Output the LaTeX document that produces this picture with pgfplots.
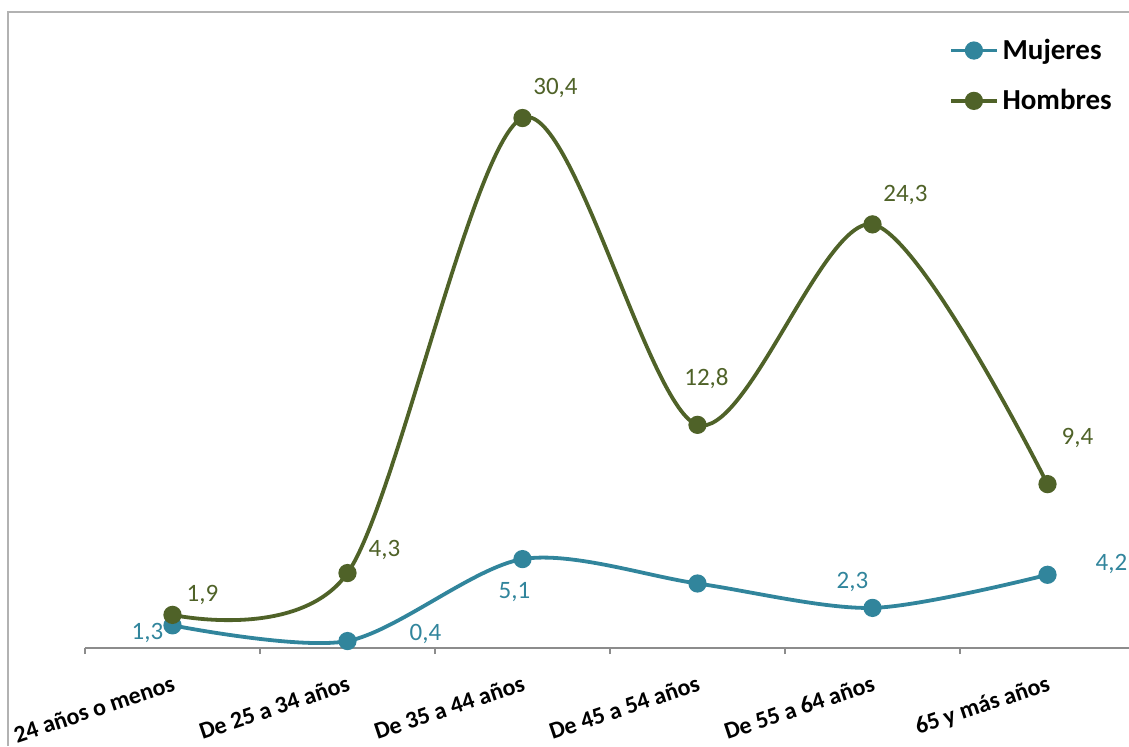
\documentclass[border=0pt]{standalone}
\usepackage{pgfplots}
\pgfplotsset{compat=1.18}
\usepackage{pgfplotstable}
\usepackage{fontspec}
\setmainfont{Carlito}
\definecolor{muj}{HTML}{31859C}
\definecolor{hom}{HTML}{4F6228}
\definecolor{axgray}{HTML}{8C8C8C}

\pgfplotstableread{
x y
0 1.3
1 0.4
2 5.1
3 3.7
4 2.3
5 4.2
}\mujeres

\pgfplotstableread{
x y
0 1.9
1 4.3
2 30.4
3 12.8
4 24.3
5 9.4
}\hombres

% data labels: value, offset in px (dx right, dy up)
\pgfplotstableread{
x y lab dx dy
0 1.3 1,3 -25 -8
1 0.4 0,4 78 7
2 5.1 5,1 -8 -33
4 2.3 2,3 -20 26
5 4.2 4,2 64 11
}\mujlab

\pgfplotstableread{
x y lab dx dy
0 1.9 1,9 30 20
1 4.3 4,3 37 23
2 30.4 30,4 33 30
3 12.8 12,8 9 46
4 24.3 24,3 33 29
5 9.4 9,4 30 46
}\homlab

\begin{document}
\begin{tikzpicture}
\begin{axis}[
  at={(42.5pt,49pt)}, anchor=south west,
  scale only axis,
  width=525pt, height=324pt,
  xmin=-0.5, xmax=5.5,
  ymin=0, ymax=37.17,
  clip=false,
  axis x line=bottom, axis y line=none,
  x axis line style={-, draw=axgray, line width=0.75pt},
  xtick={0,...,5},
  xticklabels={24 años o menos, De 25 a 34 años, De 35 a 44 años, De 45 a 54 años, De 55 a 64 años, 65 y más años},
  major tick length=0pt,
  extra x ticks={-0.5,0.5,1.5,2.5,3.5,4.5,5.5},
  extra x tick labels={},
  extra x tick style={major tick length=3pt, tick align=outside, tick style={draw=axgray, line width=0.75pt}},
  xticklabel style={yshift=-21pt, xshift=2pt, rotate=18.5, anchor=base east, inner sep=0pt, font=\bfseries\fontsize{12pt}{14pt}\selectfont},
  legend style={at={(0.817,0.953)}, anchor=north west, draw=none, fill=none,
    font=\bfseries\fontsize{14.5pt}{17pt}\selectfont, row sep=9.5pt,
    legend cell align=left},
  legend image code/.code={\draw[mark repeat=2, mark phase=2] plot coordinates {(0cm,0cm) (0.4cm,0cm) (0.8cm,0cm)};},
]
\addplot[smooth, color=muj, line width=1.9pt, mark=*, mark size=3.6pt, mark options={solid, fill=muj}] table[x=x,y=y]{\mujeres};
\addlegendentry{Mujeres}
\addplot[smooth, color=hom, line width=1.9pt, mark=*, mark size=3.6pt, mark options={solid, fill=hom}] table[x=x,y=y]{\hombres};
\addlegendentry{Hombres}

\addplot[forget plot, only marks, mark=none, point meta=explicit symbolic,
  nodes near coords,
  visualization depends on={\thisrow{dx} \as \dx},
  visualization depends on={\thisrow{dy} \as \dy},
  every node near coord/.append style={anchor=center, text=muj, inner sep=0pt,
    font=\fontsize{12.5pt}{15pt}\selectfont, xshift={0.5pt*\dx}, yshift={0.5pt*\dy}}]
  table[x=x,y=y,meta=lab]{\mujlab};
\addplot[forget plot, only marks, mark=none, point meta=explicit symbolic,
  nodes near coords,
  visualization depends on={\thisrow{dx} \as \dx},
  visualization depends on={\thisrow{dy} \as \dy},
  every node near coord/.append style={anchor=center, text=hom, inner sep=0pt,
    font=\fontsize{12.5pt}{15pt}\selectfont, xshift={0.5pt*\dx}, yshift={0.5pt*\dy}}]
  table[x=x,y=y,meta=lab]{\homlab};
\end{axis}
\draw[gray!60, line width=0.6pt] (4pt,0pt) -- (4pt,367pt) -- (564.5pt,367pt);
\pgfresetboundingbox
\useasboundingbox (0pt,0pt) rectangle (564.5pt,373pt);
\end{tikzpicture}
\end{document}
